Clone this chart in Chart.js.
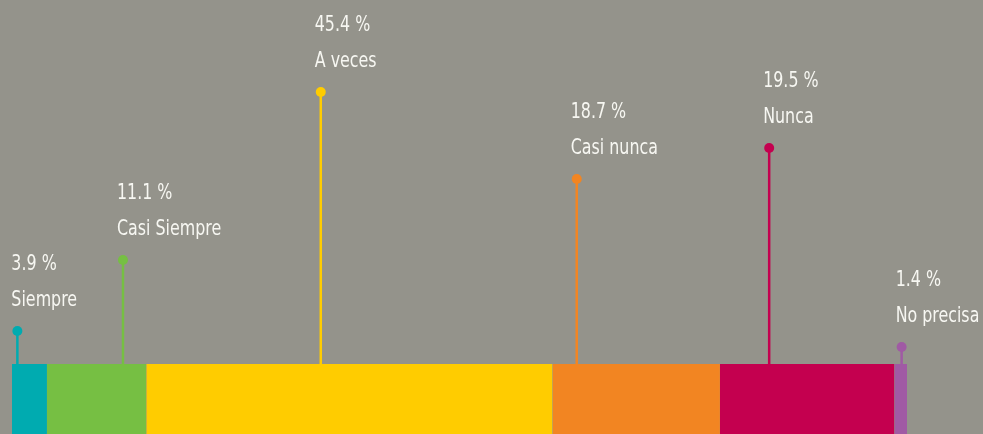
<!DOCTYPE html>
<html lang="es">
<head>
<meta charset="UTF-8">
<title>Frecuencia</title>
<script src="https://cdn.jsdelivr.net/npm/chart.js"></script>
<style>
  html, body { margin: 0; padding: 0; background: #94938b; }
  .chartBox { width: 983px; height: 434px; }
</style>
</head>
<body>
<div class="chartBox"><canvas id="chart"></canvas></div>
<script>
// data
const categories = ['Siempre', 'Casi Siempre', 'A veces', 'Casi nunca', 'Nunca', 'No precisa'];
const percents = [3.9, 11.1, 45.4, 18.7, 19.5, 1.4];
const colors = ['#00abb0', '#76bf43', '#ffcc00', '#f28522', '#c4004f', '#a05aa4'];
// where each stem stands along the bar (percent of bar) and how tall it is
const stemPos = [0.6, 12.4, 34.5, 63.1, 84.6, 99.4];
const stemHeights = [33, 104, 272, 185, 216, 17];
const barDepth = 70;

const datasets = [];

// stacked bar pieces: filled from -barDepth up to 0
let start = 0;
percents.forEach((p, i) => {
    const end = start + p;
    datasets.push({
        data: [{ x: start, y: -barDepth }, { x: end, y: -barDepth }],
        borderWidth: 0,
        pointRadius: 0,
        backgroundColor: colors[i],
        fill: 'origin',
        tension: 0
    });
    start = end;
});

// lollipop stems
percents.forEach((p, i) => {
    datasets.push({
        stem: i,
        data: [{ x: stemPos[i], y: 0 }, { x: stemPos[i], y: stemHeights[i] }],
        borderColor: colors[i],
        borderWidth: 2.5,
        pointRadius: [0, 5],
        pointBackgroundColor: colors[i],
        pointBorderWidth: 0,
        fill: false
    });
});

const labelPlugin = {
    id: 'stemLabels',
    afterDatasetsDraw(chart) {
        const ctx = chart.ctx;
        ctx.save();
        ctx.fillStyle = '#f7f7f2';
        ctx.font = '21px "Liberation Sans Narrow", "DejaVu Sans Condensed", sans-serif';
        ctx.textAlign = 'left';
        ctx.textBaseline = 'alphabetic';
        const squeeze = 0.84;
        chart.data.datasets.forEach((ds, di) => {
            if (ds.stem === undefined) return;
            const top = chart.getDatasetMeta(di).data[1];
            const x = top.x - 6;
            ctx.save();
            ctx.translate(x, top.y);
            ctx.scale(squeeze, 1);
            ctx.fillText(percents[ds.stem] + ' %', 0, -61);
            ctx.fillText(categories[ds.stem], 0, -25);
            ctx.restore();
        });
        ctx.restore();
    }
};

new Chart(document.getElementById('chart'), {
    type: 'line',
    data: { datasets: datasets },
    options: {
        responsive: true,
        maintainAspectRatio: false,
        animation: false,
        layout: { autoPadding: false, padding: { left: 12, right: 76, top: 0, bottom: 0 } },
        plugins: { legend: { display: false }, tooltip: { enabled: false } },
        scales: {
            x: { type: 'linear', min: 0, max: 100, display: false },
            y: { type: 'linear', min: -barDepth, max: 364, display: false }
        }
    },
    plugins: [labelPlugin]
});
</script>
</body>
</html>
